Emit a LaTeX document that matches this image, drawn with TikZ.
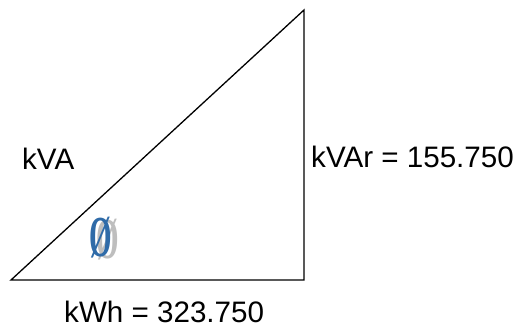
\documentclass[tikz,border=0pt]{standalone}
\usepackage{fontspec}
\setmainfont{Liberation Sans}
\newfontfamily\serifglyph{Liberation Serif}
\definecolor{phiblue}{RGB}{47,107,168}
\definecolor{phigray}{RGB}{190,190,190}
\begin{document}
\begin{tikzpicture}[x=1pt,y=-1pt,
  lbl/.style={anchor=base west,inner sep=0pt,font=\fontsize{29.6}{30}\selectfont},
  phi/.style={inner sep=0pt,font=\serifglyph\bfseries\fontsize{58}{58}\selectfont,xscale=0.5}]
\useasboundingbox (0,0) rectangle (520,328);
\coordinate (A) at (11,280);
\coordinate (B) at (304,280);
\coordinate (C) at (304,10);
\draw[line width=1.3pt,line join=miter] (A) -- (B) -- (C) -- cycle;
\node[lbl] (kva) at (22,170) {kVA};
\node[lbl] (kvar) at (311,168) {kVAr = 155.750};
\node[lbl] (kwh) at (64,323) {kWh = 323.750};
\node[phi,text=phigray] (phis) at (108,240) {Ø};
\node[phi,text=phiblue] (phim) at (101,238) {Ø};
\end{tikzpicture}
\end{document}
